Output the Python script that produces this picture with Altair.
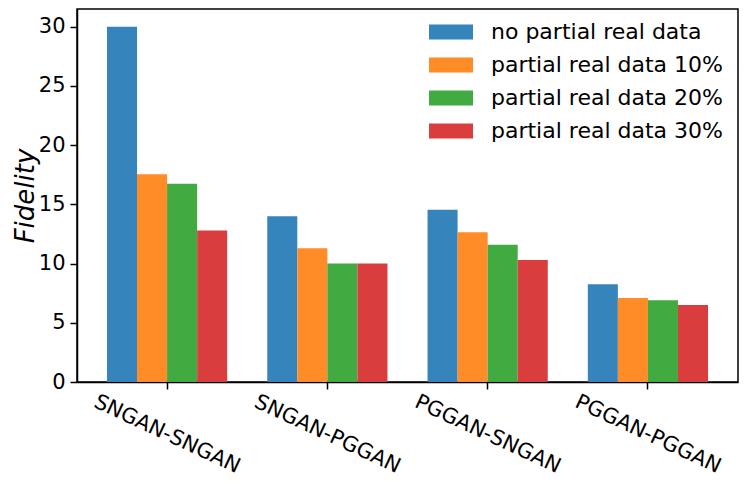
import altair as alt
import pandas as pd

groups = ["SNGAN-SNGAN", "SNGAN-PGGAN", "PGGAN-SNGAN", "PGGAN-PGGAN"]
series = [
    "no partial real data",
    "partial real data 10%",
    "partial real data 20%",
    "partial real data 30%",
]
no_partial = [30.0, 14.0, 14.55, 8.25]
partial_10 = [17.55, 11.3, 12.65, 7.1]
partial_20 = [16.75, 10.0, 11.6, 6.9]
partial_30 = [12.8, 10.0, 10.3, 6.5]
colors = ["#3585bc", "#ff8c26", "#41aa41", "#da3d3e"]
y_ticks = [0, 5, 10, 15, 20, 25, 30]

rows = []
for s, vals in zip(series, [no_partial, partial_10, partial_20, partial_30]):
    for g, v in zip(groups, vals):
        rows.append({"group": g, "series": s, "value": v})
df = pd.DataFrame(rows)

FONT = "DejaVu Sans"

chart = (
    alt.Chart(df)
    .mark_bar()
    .encode(
        x=alt.X(
            "group:N",
            sort=groups,
            scale=alt.Scale(paddingInner=0.25, paddingOuter=0.187),
            axis=alt.Axis(
                title=None,
                labelAngle=25,
                labelAlign="center",
                labelBaseline="middle",
                labelPadding=45,
                labelFontSize=21,
                labelFont=FONT,
                labelColor="black",
                tickSize=7,
                tickColor="black",
                tickWidth=1.5,
                domainColor="black",
                domainWidth=1.5,
                labelOverlap=False,
            ),
        ),
        xOffset=alt.XOffset(
            "series:N", sort=series, scale=alt.Scale(paddingInner=0, paddingOuter=0)
        ),
        y=alt.Y(
            "value:Q",
            scale=alt.Scale(domain=[0, 31.5], nice=False, zero=True),
            axis=alt.Axis(
                values=y_ticks,
                title="Fidelity",
                titleFontStyle="italic",
                titleFontWeight="normal",
                titleFontSize=26,
                titleFont=FONT,
                titleColor="black",
                titlePadding=0,
                labelFontSize=21,
                labelFont=FONT,
                labelColor="black",
                labelPadding=5,
                tickSize=7,
                tickColor="black",
                tickWidth=1.5,
                domainColor="black",
                domainWidth=1.5,
                grid=False,
            ),
        ),
        color=alt.Color(
            "series:N",
            sort=series,
            scale=alt.Scale(domain=series, range=colors),
            legend=alt.Legend(
                title=None,
                orient="none",
                legendX=352,
                legendY=1,
                padding=0,
                symbolType="M-1,-0.34L1,-0.34L1,0.34L-1,0.34Z",
                symbolSize=1936,
                symbolStrokeWidth=0,
                rowPadding=-12,
                labelOffset=18,
                labelFontSize=22,
                labelFont=FONT,
                labelColor="black",
                labelLimit=400,
            ),
        ),
    )
    .properties(
        width=661,
        height=373,
        autosize=alt.AutoSizeParams(type="none"),
        padding={"left": 69, "top": 1, "right": 1, "bottom": 98},
    )
    .configure_view(stroke="black", strokeWidth=1.5)
    .configure_axis(grid=False)
)

chart.save("out.html", embed_options={"renderer": "svg", "actions": False})
